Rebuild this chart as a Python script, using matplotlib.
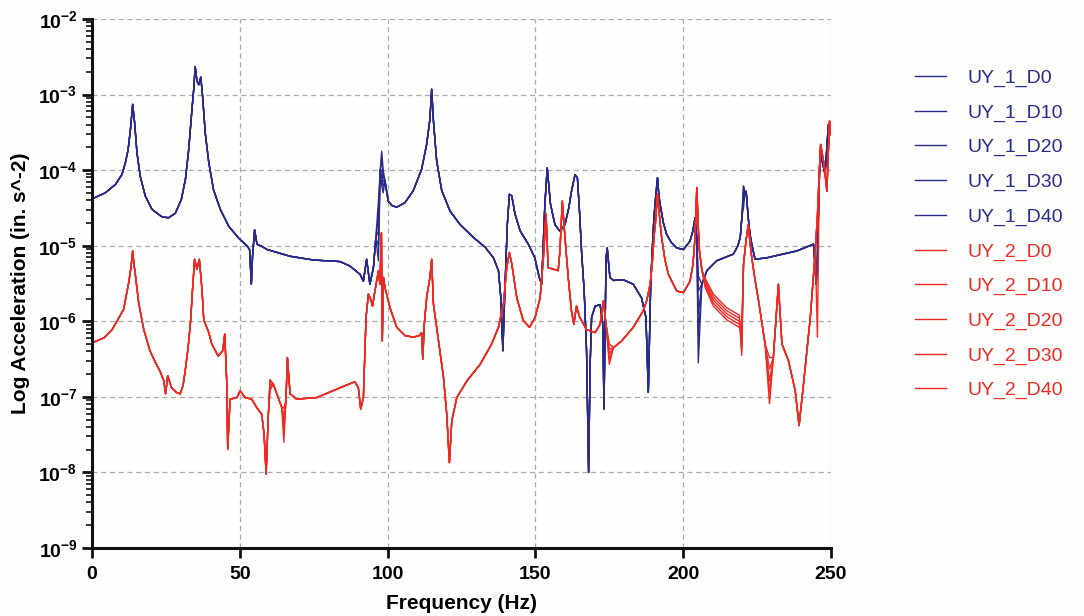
import numpy as np
import matplotlib
matplotlib.use("Agg")
import matplotlib.pyplot as plt
from matplotlib.ticker import FixedLocator, FuncFormatter, LogLocator, NullFormatter

# ---------------- data (log10 of acceleration) -------------
freq_1 = [0, 0.6, 4.5, 7.9, 10.1, 11.3, 12.2, 13.0, 13.75, 14.4, 15.2, 16.3, 18.0, 20.3,
          23.7, 25.9, 28.2, 30.2, 31.6, 32.7, 33.8, 34.4, 34.9, 35.5, 36.1, 36.8, 37.4,
          38.3, 39.5, 41.1, 43.4, 46.2, 49.6, 52.4, 53.3, 53.9, 54.3, 55.0, 55.8, 57.5,
          59.2, 67.0, 75.0, 83.9, 87.3, 90.7, 91.8, 92.9, 94.0, 95.2, 96.0, 96.9, 97.5,
          98.0, 98.5, 99.1, 100.2, 101.5, 103.1, 105.9, 108.7, 111.5, 113.2, 114.3, 114.9,
          115.5, 116.6, 118.3, 121.1, 124.5, 129.0, 133.0, 135.8, 137.5, 138.3, 139.0,
          139.7, 140.5, 141.2, 142.0, 143.1, 144.8, 147.6, 149.8, 151.3, 152.1, 153.2,
          154.0, 155.1, 156.6, 158.3, 160.0, 161.3, 162.2, 163.4, 164.2, 165.0, 165.6,
          166.5, 167.3, 168.0, 168.5, 169.0, 170.2, 171.9, 172.8, 173.2, 173.9, 174.3,
          175.2, 176.4, 179.7, 183.1, 185.9, 187.4, 188.2, 189.0, 189.6, 190.1, 190.7,
          191.3, 191.8, 192.4, 193.3, 194.4, 196.0, 197.8, 200.1, 202.3, 203.3, 204.0,
          204.6, 205.1, 206.3, 208.0, 211.3, 217.0, 218.5, 219.3, 219.9, 220.4, 220.9,
          221.3, 222.0, 222.6, 223.2, 224.3, 228.3, 238.4, 244.1, 245.0, 245.4, 246.3,
          248.0, 249.1, 250.0]
logacc_1 = [-4.37, -4.37, -4.30, -4.19, -4.06, -3.90, -3.73, -3.46, -3.13, -3.37, -3.77,
            -4.08, -4.34, -4.52, -4.62, -4.63, -4.57, -4.39, -4.12, -3.73, -3.20, -2.93,
            -2.63, -2.82, -2.87, -2.77, -3.02, -3.51, -3.90, -4.26, -4.52, -4.74, -4.90,
            -5.00, -5.05, -5.51, -5.14, -4.79, -4.98, -5.01, -5.05, -5.14, -5.19, -5.21,
            -5.27, -5.38, -5.47, -5.18, -5.51, -5.29, -4.90, -4.41, -4.00, -3.75, -4.00,
            -4.14, -4.41, -4.47, -4.49, -4.43, -4.27, -3.99, -3.66, -3.33, -2.93, -3.35,
            -3.88, -4.27, -4.54, -4.72, -4.89, -5.02, -5.16, -5.33, -5.69, -6.39, -5.55,
            -4.72, -4.32, -4.34, -4.58, -4.80, -4.98, -5.16, -5.42, -5.51, -4.45, -3.97,
            -4.45, -4.72, -4.81, -4.72, -4.50, -4.28, -4.06, -4.10, -4.60, -5.07, -5.60,
            -6.39, -8.00, -6.60, -5.95, -5.80, -5.78, -6.04, -7.16, -5.16, -5.03, -5.42,
            -5.46, -5.45, -5.51, -5.69, -5.95, -6.94, -5.51, -5.00, -4.63, -4.35, -4.10,
            -4.35, -4.50, -4.70, -4.85, -4.96, -5.03, -5.05, -4.94, -4.80, -4.63, -4.89,
            -6.55, -5.51, -5.33, -5.20, -5.11, -5.00, -4.89, -4.60, -4.21, -4.30, -4.28,
            -4.63, -4.85, -4.98, -5.18, -5.16, -5.07, -4.98, -5.51, -5.16, -3.75, -4.06,
            -3.40, -3.49]

freq_2 = [0, 1.0, 4.0, 6.8, 9.0, 10.7, 12.4, 13.2, 13.75, 14.2, 14.7, 15.8, 17.5, 19.6,
          21.5, 23.0, 24.3, 24.9, 25.6, 26.9, 28.5, 29.8, 30.8, 31.5, 32.5, 33.3, 34.0,
          34.7, 35.5, 36.3, 37.2, 37.8, 38.6, 39.5, 40.5, 42.7, 44.2, 44.9, 45.6, 45.9,
          46.7, 49.0, 50.1, 51.8, 54.0, 55.7, 57.4, 58.2, 58.9, 59.6, 60.2, 61.3, 63.0,
          64.2, 64.9, 65.6, 66.1, 67.0, 69.2, 76.0, 83.9, 88.9, 90.1, 90.9, 91.8, 92.7,
          93.5, 94.3, 94.9, 95.7, 96.9, 97.4, 97.9, 98.2, 98.6, 99.1, 100.8, 103.1, 105.9,
          108.7, 110.7, 111.5, 111.9, 112.4, 113.2, 114.3, 114.9, 115.5, 117.2, 118.9,
          120.0, 120.9, 121.7, 123.4, 126.8, 131.3, 135.2, 137.5, 139.2, 140.3, 141.2,
          142.0, 143.7, 145.9, 148.0, 149.9, 151.6, 152.7, 153.6, 154.3, 156.0, 157.7,
          158.3, 159.1, 160.0, 161.1, 162.2, 163.0, 163.9, 165.0, 167.3, 170.2, 171.9,
          173.0, 173.9, 175.0, 176.4, 179.2, 183.1, 186.5, 187.7, 188.8, 189.5, 190.1,
          190.6, 191.3, 192.0, 192.7, 193.8, 195.0, 197.8, 200.1, 202.3, 203.3, 204.0,
          204.6, 205.1, 205.5, 206.3, 207.4, 210.2, 214.7, 219.0, 219.8, 220.4, 221.2,
          222.0, 222.6, 223.2, 224.3, 225.5, 226.6, 227.7, 229.2, 230.5, 232.2, 233.4,
          235.6, 237.9, 239.2, 240.7, 243.0, 244.7, 245.4, 246.1, 246.5, 247.7, 248.6,
          249.5, 250.0]
logacc_2 = [-6.28, -6.27, -6.22, -6.11, -5.96, -5.84, -5.49, -5.28, -5.07, -5.25, -5.40,
            -5.76, -6.11, -6.39, -6.55, -6.66, -6.79, -6.96, -6.72, -6.88, -6.94, -6.96,
            -6.85, -6.66, -6.35, -6.02, -5.58, -5.18, -5.31, -5.18, -5.58, -5.98, -6.06,
            -6.15, -6.30, -6.46, -6.39, -6.17, -6.83, -7.69, -7.03, -7.01, -6.92, -7.01,
            -7.03, -7.14, -7.23, -7.49, -8.02, -7.27, -6.77, -6.83, -7.01, -7.14, -7.60,
            -7.05, -6.48, -6.96, -7.03, -7.01, -6.88, -6.80, -6.88, -7.16, -7.01, -5.95,
            -5.64, -5.71, -5.80, -5.60, -5.33, -5.51, -4.83, -6.26, -5.42, -5.55, -5.82,
            -6.08, -6.19, -6.21, -6.19, -6.15, -6.50, -6.04, -5.69, -5.42, -5.18, -5.77,
            -6.26, -6.74, -7.23, -7.87, -7.32, -7.01, -6.79, -6.57, -6.30, -6.08, -5.77,
            -5.29, -5.09, -5.24, -5.69, -5.99, -6.08, -5.95, -5.69, -5.16, -4.58, -5.29,
            -5.31, -5.33, -5.07, -4.41, -4.89, -5.42, -5.86, -6.04, -5.80, -5.95, -6.11,
            -6.15, -6.04, -5.73, -6.04, -6.48, -6.35, -6.26, -6.08, -5.86, -5.72, -5.51,
            -5.25, -4.89, -4.70, -4.32, -4.62, -4.89, -5.18, -5.38, -5.60, -5.62, -5.47,
            -5.25, -4.89, -4.23, -4.75, -5.07, -5.32, -5.51, -5.78, -5.95, -6.04, -6.39,
            -5.25, -4.95, -4.72, -4.95, -5.16, -5.45, -5.73, -6.02, -6.30, -6.78, -6.48,
            -5.51, -6.30, -6.52, -6.92, -7.38, -6.83, -5.95, -5.07, -4.60, -3.97, -3.66,
            -3.93, -4.28, -3.35, -3.53]

# where the five damping cases separate (frequency, value per case D0..D40)
var_freq_1 = [96.9, 98.0, 98.5, 205.1, 220.4]
var_vals_1 = [[-4.41, -3.75, -4.00, -6.55, -4.21],
              [-4.60, -3.85, -4.08, -6.20, -4.21],
              [-4.80, -4.00, -4.15, -5.90, -4.30],
              [-5.00, -4.10, -4.22, -5.60, -4.40],
              [-5.20, -4.20, -4.30, -5.40, -4.50]]
var_freq_2 = [60.2, 64.9, 175.0, 207.4, 210.2, 214.7, 219.0, 219.8, 229.2, 245.4]
var_vals_2 = [[-6.77, -7.60, -6.30, -5.55, -5.80, -5.98, -6.08, -6.10, -6.48, -4.60],
              [-6.80, -7.45, -6.37, -5.52, -5.76, -5.94, -6.04, -6.20, -6.63, -4.60],
              [-6.84, -7.35, -6.43, -5.49, -5.72, -5.90, -6.00, -6.30, -6.79, -4.60],
              [-6.88, -7.25, -6.50, -5.46, -5.68, -5.86, -5.96, -6.39, -6.94, -4.60],
              [-6.92, -7.15, -6.57, -5.43, -5.64, -5.82, -5.92, -6.45, -7.09, -6.21]]

cases = ["D0", "D10", "D20", "D30", "D40"]
x_ticks = [0, 50, 100, 150, 200, 250]

# ---------------- plotting -------------------------------------------------------
plt.rcParams['font.family'] = ['Liberation Sans', 'DejaVu Sans']
plt.rcParams['mathtext.fontset'] = 'custom'
plt.rcParams['mathtext.rm'] = 'Liberation Sans'
plt.rcParams['mathtext.bf'] = 'Liberation Sans:bold'

BLUE = '#2a2a8a'
RED = '#ee2a24'

fig = plt.figure(figsize=(10.84, 6.16), dpi=100)
fig.patch.set_facecolor('#fefefc')
ax = fig.add_axes([0.0849, 0.1104, 0.6817, 0.8588])
ax.set_facecolor('#fefefc')


def build(freqs, vals, vfreq, vvals):
    out = np.array(vals, dtype=float)
    f = np.array(freqs)
    for fq, v in zip(vfreq, vvals):
        out[np.argmin(np.abs(f - fq))] = v
    return 10.0 ** out


for k, c in enumerate(cases):
    ax.plot(freq_1, build(freq_1, logacc_1, var_freq_1, var_vals_1[k]),
            color=BLUE, lw=1.0, label=f"UY_1_{c}")
for k, c in enumerate(cases):
    ax.plot(freq_2, build(freq_2, logacc_2, var_freq_2, var_vals_2[k]),
            color=RED, lw=1.0, label=f"UY_2_{c}")

ax.set_yscale('log')
ax.set_xlim(0, 250)
ax.set_ylim(1e-9, 1e-2)
ax.xaxis.set_major_locator(FixedLocator(x_ticks))
ax.yaxis.set_major_locator(LogLocator(base=10, numticks=20))
ax.yaxis.set_minor_locator(LogLocator(base=10, subs=np.arange(2, 10), numticks=20))
ax.yaxis.set_minor_formatter(NullFormatter())
ax.yaxis.set_major_formatter(FuncFormatter(
    lambda v, p: r'$\mathbf{10^{%d}}$' % int(round(np.log10(v)))))

for s in ['top', 'right']:
    ax.spines[s].set_visible(False)
for s in ['left', 'bottom']:
    ax.spines[s].set_linewidth(2.2)
    ax.spines[s].set_color('#111111')

ax.grid(True, which='major', color='#aaaaaa', linestyle=(0, (4, 3)), linewidth=0.9)
ax.tick_params(axis='both', which='major', direction='out', length=7, width=2,
               labelsize=14, color='#111111')
ax.tick_params(axis='x', which='major', pad=6)
ax.tick_params(axis='y', which='minor', direction='out', length=4, width=1.2,
               color='#111111')
for lab in ax.get_xticklabels():
    lab.set_fontweight('bold')

ax.set_xlabel('Frequency (Hz)', fontsize=15, fontweight='bold', labelpad=8)
ax.set_ylabel('Log Acceleration (in. s^-2)', fontsize=15, fontweight='bold', labelpad=6)

leg = fig.legend(loc='upper left', bbox_to_anchor=(0.8276, 0.916), frameon=False,
                 fontsize=14, handlelength=1.6, handletextpad=1.1, labelspacing=0.87,
                 labelcolor='linecolor')

fig.savefig('out.png', dpi=100, facecolor=fig.get_facecolor())
